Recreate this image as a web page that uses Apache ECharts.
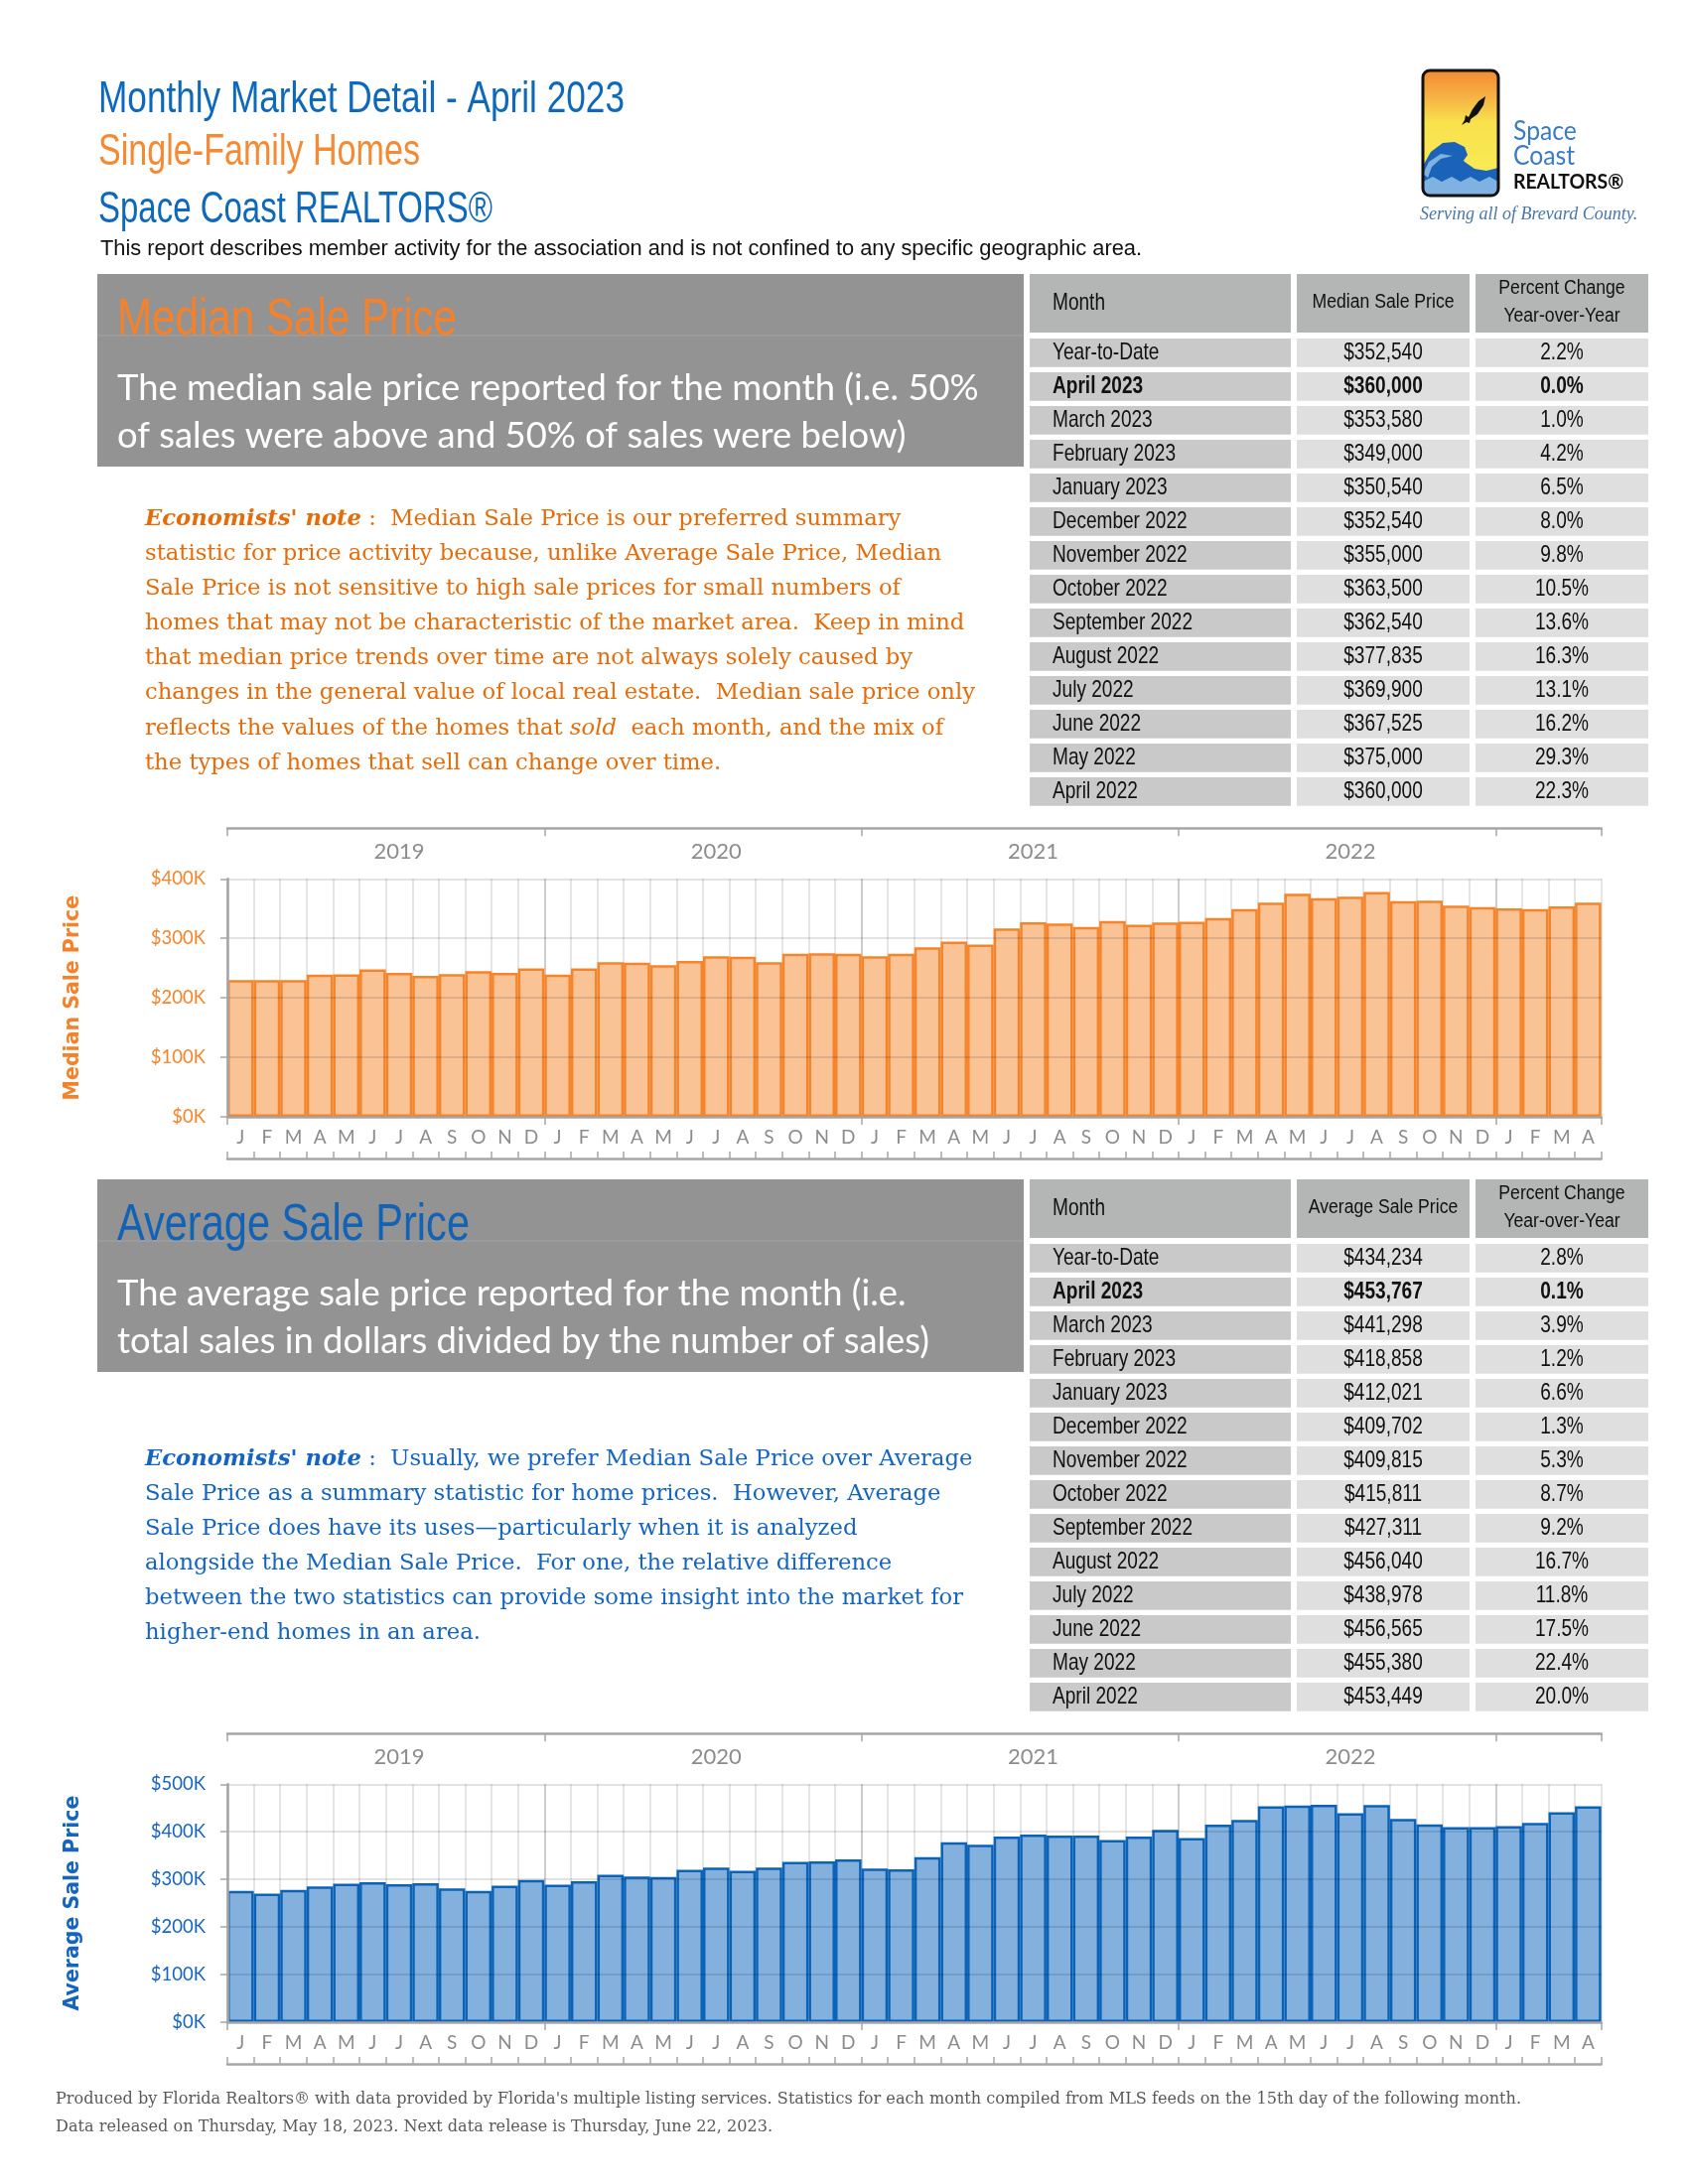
<!DOCTYPE html>
<html><head><meta charset="utf-8">
<script src="https://cdn.jsdelivr.net/npm/echarts@6/dist/echarts.min.js"></script>
<style>html,body{margin:0;padding:0;background:#fff}#c{width:1700px;height:2200px}</style>
</head><body><div id="c"></div>
<script>
// ---------- DATA ----------
const years = ['2019', '2020', '2021', '2022', '2023'];
const monthsPerYear = [12, 12, 12, 12, 4];
const monthLetters = ['J', 'F', 'M', 'A', 'M', 'J', 'J', 'A', 'S', 'O', 'N', 'D'];

const medianValues = [
  230000, 230000, 230000, 239000, 239500, 248000, 242000, 237000, 240000, 245000, 242000, 249500,
  239000, 249500, 260000, 259000, 255000, 262000, 270000, 269000, 260000, 274000, 275000, 274000,
  270000, 274000, 285000, 294500, 289500, 316700, 327000, 325000, 319000, 329000, 323000, 326700,
  328000, 334000, 349000, 360000, 375000, 367525, 369900, 377835, 362540, 363500, 355000, 352540,
  350540, 349000, 353580, 360000
];
const averageValues = [
  276000, 270000, 278000, 285000, 291000, 294000, 290000, 292000, 281000, 276000, 287000, 299000,
  289000, 296000, 310000, 306000, 305000, 320000, 325000, 318000, 325000, 337000, 338000, 342000,
  323000, 321000, 347000, 378000, 373000, 390000, 394000, 392000, 392000, 383000, 390000, 404000,
  387000, 415000, 425000, 453449, 455380, 456565, 438978, 456040, 427311, 415811, 409815, 409702,
  412021, 418858, 441298, 453767
];
const medianTicks = [0, 100000, 200000, 300000, 400000];
const averageTicks = [0, 100000, 200000, 300000, 400000, 500000];

const tableMonths = ['Year-to-Date', 'April 2023', 'March 2023', 'February 2023', 'January 2023',
  'December 2022', 'November 2022', 'October 2022', 'September 2022', 'August 2022', 'July 2022',
  'June 2022', 'May 2022', 'April 2022'];
const medianTablePrices = ['$352,540', '$360,000', '$353,580', '$349,000', '$350,540', '$352,540',
  '$355,000', '$363,500', '$362,540', '$377,835', '$369,900', '$367,525', '$375,000', '$360,000'];
const medianTablePct = ['2.2%', '0.0%', '1.0%', '4.2%', '6.5%', '8.0%', '9.8%', '10.5%', '13.6%',
  '16.3%', '13.1%', '16.2%', '29.3%', '22.3%'];
const averageTablePrices = ['$434,234', '$453,767', '$441,298', '$418,858', '$412,021', '$409,702',
  '$409,815', '$415,811', '$427,311', '$456,040', '$438,978', '$456,565', '$455,380', '$453,449'];
const averageTablePct = ['2.8%', '0.1%', '3.9%', '1.2%', '6.6%', '1.3%', '5.3%', '8.7%', '9.2%',
  '16.7%', '11.8%', '17.5%', '22.4%', '20.0%'];

const medianNote = [
  '{b|Economists\' note} :  Median Sale Price is our preferred summary',
  'statistic for price activity because, unlike Average Sale Price, Median',
  'Sale Price is not sensitive to high sale prices for small numbers of',
  'homes that may not be characteristic of the market area.  Keep in mind',
  'that median price trends over time are not always solely caused by',
  'changes in the general value of local real estate.  Median sale price only',
  'reflects the values of the homes that {i|sold}  each month, and the mix of',
  'the types of homes that sell can change over time.'
];
const averageNote = [
  '{b|Economists\' note} :  Usually, we prefer Median Sale Price over Average',
  'Sale Price as a summary statistic for home prices.  However, Average',
  'Sale Price does have its uses\u2014particularly when it is analyzed',
  'alongside the Median Sale Price.  For one, the relative difference',
  'between the two statistics can provide some insight into the market for',
  'higher-end homes in an area.'
];
const footerLines = [
  'Produced by Florida Realtors\u00AE with data provided by Florida\'s multiple listing services. Statistics for each month compiled from MLS feeds on the 15th day of the following month.',
  'Data released on Thursday, May 18, 2023. Next data release is Thursday, June 22, 2023.'
];

// ---------- HELPERS ----------
const mctx = document.createElement('canvas').getContext('2d');
function measure(t, font) { mctx.font = font; return mctx.measureText(t).width; }
const NARROW = "'Liberation Sans',Arial,sans-serif";
const SERIF = "'DejaVu Serif',serif";
const SANS = "Lato,'Open Sans',sans-serif";
const fitScale = (t, size, w, family) => w / measure(t, size + 'px ' + (family || NARROW));
const fitSize = (t, family, size, w) => size * w / measure(t, size + 'px ' + family);

const categories = [];
years.forEach((y, yi) => { for (let m = 0; m < monthsPerYear[yi]; m++) categories.push(y + '-' + m); });
const monthOf = k => monthLetters[+k.split('-')[1]];
const yearOf = k => k.split('-')[0];
const isYearStart = i => +categories[i].split('-')[1] === 0;
const isYearMid = i => +categories[i].split('-')[1] === 6;

const AXISGRAY = '#A6A6A6';
const LABELGRAY = '#8C8C8C';
const splitColors = Array.from({length: 12}, (_, i) => i === 0 ? '#BDBDBD' : '#DCDCDC');

const sections = [
  { o: 0, values: medianValues, ticks: medianTicks, name: 'Median Sale Price', accent: '#F5822A',
    fill: 'rgba(246,135,45,0.5)', border: '#F5842A', label: '#F5842A', noteColor: '#E46C0A',
    titleColor: '#F5822A', tableHead: 'Median Sale Price', prices: medianTablePrices, pct: medianTablePct,
    desc: ['The median sale price reported for the month (i.e. 50%', 'of sales were above and 50% of sales were below)'],
    note: medianNote, noteTop: 523, titleW: 342 },
  { o: 912, values: averageValues, ticks: averageTicks, name: 'Average Sale Price', accent: '#1565C0',
    fill: 'rgba(20,105,190,0.53)', border: '#0B63B8', label: '#1565C0', noteColor: '#1565C0',
    titleColor: '#1263B5', tableHead: 'Average Sale Price', prices: averageTablePrices, pct: averageTablePct,
    desc: ['The average sale price reported for the month (i.e.', 'total sales in dollars divided by the number of sales)'],
    note: averageNote, noteTop: 1470, titleW: 355 }
];

const grids = [], xAxes = [], yAxes = [], series = [];
sections.forEach((s, gi) => {
  grids.push({ left: 229, top: 885.3 + s.o, width: 1383.7, height: 239.7, outerBoundsMode: 'none', containLabel: false });
  const base = { type: 'category', gridIndex: gi, data: categories, boundaryGap: true };
  xAxes.push(Object.assign({}, base, {
    position: 'bottom', z: 0,
    axisLine: { show: false }, axisTick: { show: false },
    axisLabel: { interval: 0, margin: 11, color: LABELGRAY, fontFamily: SANS, fontSize: 19, formatter: monthOf },
    splitLine: { show: true, interval: 0, lineStyle: { color: splitColors, width: 1.5 } }
  }));
  xAxes.push(Object.assign({}, base, {
    position: 'bottom', z: 5,
    axisLine: { show: true, lineStyle: { color: AXISGRAY, width: 2.5 } },
    axisTick: { show: true, interval: i => isYearStart(i), length: 8, lineStyle: { color: AXISGRAY, width: 1.5 } },
    axisLabel: { show: false }, splitLine: { show: false }
  }));
  xAxes.push(Object.assign({}, base, {
    position: 'bottom', offset: 42, z: 5,
    axisLine: { show: true, lineStyle: { color: AXISGRAY, width: 2.5 } },
    axisTick: { show: true, interval: 0, inside: true, length: 7, lineStyle: { color: AXISGRAY, width: 1.5 } },
    axisLabel: { show: false }, splitLine: { show: false }
  }));
  xAxes.push(Object.assign({}, base, {
    position: 'top', offset: 51, z: 5,
    axisLine: { show: true, lineStyle: { color: AXISGRAY, width: 2.5 } },
    axisTick: { show: true, interval: i => isYearStart(i), inside: true, length: 8, lineStyle: { color: AXISGRAY, width: 1.5 } },
    axisLabel: { show: false }, splitLine: { show: false }
  }));
  xAxes.push(Object.assign({}, base, {
    position: 'top', offset: 16, z: 5,
    axisLine: { show: false }, axisTick: { show: false }, splitLine: { show: false },
    axisLabel: { interval: i => isYearMid(i), margin: 0, color: LABELGRAY, fontFamily: SANS, fontSize: 22, formatter: yearOf }
  }));
  const tmax = s.ticks[s.ticks.length - 1];
  yAxes.push({
    type: 'value', gridIndex: gi, min: s.ticks[0], max: tmax, interval: s.ticks[1] - s.ticks[0], z: 3,
    axisLine: { show: true, lineStyle: { color: AXISGRAY, width: 2.5 } },
    axisTick: { show: true, length: 7, lineStyle: { color: AXISGRAY, width: 1.5 } },
    axisLabel: { margin: 22, color: s.label, fontFamily: SANS, fontSize: 18.5, formatter: v => '$' + (v / 1000) + 'K' },
    splitLine: { show: true, lineStyle: { color: 'rgba(0,0,0,0.11)', width: 2 } },
    name: s.name, nameLocation: 'middle', nameGap: 145, nameRotate: 90,
    nameTextStyle: { color: s.accent, fontFamily: "'DejaVu Sans',Verdana,sans-serif", fontWeight: 'bold', fontSize: 20.5 }
  });
  series.push({
    type: 'bar', xAxisIndex: gi * 5, yAxisIndex: gi, data: s.values, silent: true,
    barCategoryGap: '0%', barGap: '0%', z: 2,
    itemStyle: { color: s.fill, borderColor: s.border, borderWidth: 2.5 }
  });
});

// ---------- GRAPHIC (text blocks, table, logo) ----------
const G = [];
function txt(x, y, t, st, sx) {
  G.push({ type: 'text', x: x, y: y, silent: true, z: 10, scaleX: sx || 1,
    style: Object.assign({ text: t, align: 'left', verticalAlign: 'middle' }, st) });
}
// narrow (Liberation Sans) text: y is the cap centre
function ntxt(x, y, t, size, st, w) {
  txt(x, y + 0.08 * size, t, Object.assign({ fontFamily: NARROW, fontSize: size }, st), w ? fitScale(t, size, w) : 1);
}
function box(x, y, w, h, fill) {
  G.push({ type: 'rect', silent: true, z: 5, shape: { x: x, y: y, width: w, height: h }, style: { fill: fill } });
}
function poly(pts, fill, z) {
  G.push({ type: 'polygon', silent: true, z: z, x: 1433, y: 71, shape: { points: pts }, style: { fill: fill } });
}

// header
const H1 = 'Monthly Market Detail - April 2023', H2 = 'Single-Family Homes', H3 = 'Space Coast REALTORS\u00AE';
const H4 = 'This report describes member activity for the association and is not confined to any specific geographic area.';
ntxt(99, 97, H1, 45, { fill: '#0F69BA' }, 530);
ntxt(99, 150, H2, 45, { fill: '#F58A35' }, 324);
ntxt(99, 207.5, H3, 45, { fill: '#0F69BA' }, 397);
ntxt(101, 249, H4, 21.5, { fill: '#111' }, 1049);

// logo
G.push({ type: 'rect', silent: true, z: 5, shape: { x: 1433, y: 71, width: 76, height: 126, r: 7 },
  style: { fill: { type: 'linear', x: 0, y: 0, x2: 0, y2: 1, colorStops: [
    { offset: 0, color: '#F28A30' }, { offset: 0.22, color: '#F6B445' }, { offset: 0.42, color: '#F8E24E' },
    { offset: 1, color: '#F9EE58' } ] } } });
poly([[0,96],[8,82],[20,73],[32,72],[42,77],[45,85],[40,92],[34,91],[32,86],[36,84],[42,92],[52,99],[64,101],[76,98],[76,120],[70,126],[6,126],[0,120]], '#1A63B8', 6);
poly([[0,112],[10,107],[19,112],[29,107],[38,112],[48,107],[57,112],[67,107],[76,112],[76,120],[70,126],[6,126],[0,120]], '#7FB2E0', 7);
poly([[0,104],[6,92],[18,84],[30,86],[18,89],[9,97],[5,108]], '#7FB2E0', 7);
poly([[63,26],[56,31],[50,39],[46,47],[43,45],[42,50],[39,55],[44,52],[47,53],[48,49],[55,44],[61,35]], '#111', 7);
G.push({ type: 'rect', silent: true, z: 8, shape: { x: 1433, y: 71, width: 76, height: 126, r: 7 },
  style: { fill: 'none', stroke: '#111', lineWidth: 3 } });
txt(1524, 133, 'Space', { fill: '#3A7CC2', fontFamily: SANS, fontSize: 26 }, 0.95);
txt(1524, 158, 'Coast', { fill: '#3A7CC2', fontFamily: SANS, fontSize: 26 }, 0.95);
txt(1524, 183, 'REALTORS\u00AE', { fill: '#111', fontFamily: SANS, fontSize: 21.5, fontWeight: 'bold' }, 0.9);
txt(1430, 216, 'Serving all of Brevard County.', { fill: '#4A76A8', fontFamily: "'Liberation Serif',serif", fontStyle: 'italic', fontSize: 18 });

// sections
const descSize = fitSize(sections[0].desc[0], SANS, 32, 868);
const NOTESIZE = 23;
const noteScale = fitScale(medianNote[5], NOTESIZE, 836, SERIF);
const tableScale = fitScale('September 2022', 24, 141);
const headScale = fitScale('Median Sale Price', 19.5, 143);
sections.forEach(s => {
  const o = s.o;
  box(98, 276 + o, 933, 194, '#939393');
  G.push({ type: 'line', silent: true, z: 6, shape: { x1: 98, y1: 338 + o, x2: 1031, y2: 338 + o },
    style: { stroke: 'rgba(255,255,255,0.08)', lineWidth: 2 } });
  ntxt(118, 318 + o, s.name, 52, { fill: s.titleColor }, s.titleW);
  txt(118, 391 + o, s.desc[0], { fill: '#FFFFFF', fontFamily: SANS, fontSize: descSize });
  txt(118, 439 + o, s.desc[1], { fill: '#FFFFFF', fontFamily: SANS, fontSize: descSize });
  s.note.forEach((ln, i) => {
    txt(146, s.noteTop + i * 35.1, ln, {
      fill: s.noteColor, fontFamily: SERIF, fontSize: NOTESIZE,
      rich: {
        b: { fill: s.noteColor, fontFamily: SERIF, fontSize: NOTESIZE, fontWeight: 'bold', fontStyle: 'italic' },
        i: { fill: s.noteColor, fontFamily: SERIF, fontSize: NOTESIZE, fontStyle: 'italic' }
      }
    }, noteScale);
  });
  box(1037, 276 + o, 263, 59, '#B4B5B5');
  box(1306, 276 + o, 174, 59, '#B4B5B5');
  box(1486, 276 + o, 174, 59, '#B4B5B5');
  txt(1060, 305 + o, 'Month', { fill: '#111', fontFamily: NARROW, fontSize: 24 }, tableScale);
  txt(1393, 305 + o, s.tableHead, { fill: '#111', fontFamily: NARROW, fontSize: 19.5, align: 'center' }, headScale);
  txt(1573, 290.5 + o, 'Percent Change', { fill: '#111', fontFamily: NARROW, fontSize: 19.5, align: 'center' }, headScale);
  txt(1573, 319 + o, 'Year-over-Year', { fill: '#111', fontFamily: NARROW, fontSize: 19.5, align: 'center' }, headScale);
  tableMonths.forEach((m, i) => {
    const top = 341 + 34 * i + o;
    box(1037, top, 263, 28.7, '#C9C9C9');
    box(1306, top, 174, 28.7, '#DFDFDF');
    box(1486, top, 174, 28.7, '#DFDFDF');
    const fw = i === 1 ? 'bold' : 'normal';
    const cy = top + 14.8;
    txt(1060, cy, m, { fill: '#111', fontFamily: NARROW, fontSize: 24, fontWeight: fw }, tableScale);
    txt(1393, cy, s.prices[i], { fill: '#111', fontFamily: NARROW, fontSize: 24, fontWeight: fw, align: 'center' }, tableScale);
    txt(1573, cy, s.pct[i], { fill: '#111', fontFamily: NARROW, fontSize: 24, fontWeight: fw, align: 'center' }, tableScale);
  });
});

// footer
const FOOTSIZE = 17;
const footScale = fitScale(footerLines[0], FOOTSIZE, 1476, SERIF);
txt(56, 2115, footerLines[0], { fill: '#5A5A5A', fontFamily: SERIF, fontSize: FOOTSIZE }, footScale);
txt(56, 2143, footerLines[1], { fill: '#5A5A5A', fontFamily: SERIF, fontSize: FOOTSIZE }, footScale);

const chart = echarts.init(document.getElementById('c'), null, { renderer: 'canvas', width: 1700, height: 2200 });
chart.setOption({
  animation: false,
  backgroundColor: '#FFFFFF',
  grid: grids,
  xAxis: xAxes,
  yAxis: yAxes,
  series: series,
  graphic: { elements: G }
});
</script></body></html>
